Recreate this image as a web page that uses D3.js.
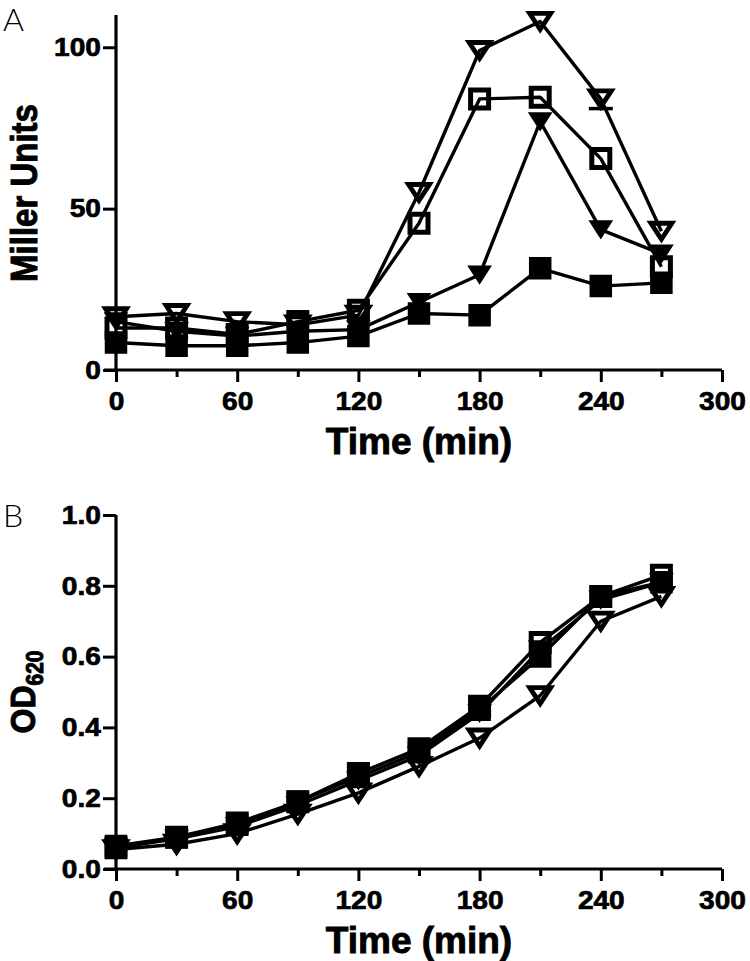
<!DOCTYPE html>
<html>
<head>
<meta charset="utf-8">
<script src="https://cdn.jsdelivr.net/npm/d3@7"></script>
<style>
  html, body { margin: 0; padding: 0; background: #fff; }
  svg { display: block; }
  .tick text { font-family: "Liberation Sans", Arial, sans-serif; font-weight: bold; font-size: 26px;
               stroke: #000; stroke-width: 0.7px; }
  .title { stroke: #000; stroke-width: 0.9px; }
</style>
</head>
<body>
<svg id="chart" width="750" height="961"></svg>
<script>
// ---------- data ----------
const times = [0, 30, 60, 90, 120, 150, 180, 210, 240, 270];

// Panel A : Miller Units
const millerOpenTri   = [16.5, 17.5, 15, 14, 17, 55, 99, 108, 84, 43];
const millerOpenSq    = [13, 13, 11, 15, 18.5, 45.5, 84, 84.5, 65.5, 32];
const millerFilledTri = [15, 12, 10.5, 12, 12.5, 21, 29.5, 77, 43.5, 36];
const millerFilledSq  = [8.5, 7.5, 7.5, 8.5, 10.5, 17.5, 17, 31.5, 26, 27];
const millerOpenTriErr = [0, 0, 0, 0, 0, 0, 0, 0, 3, 0];

// Panel B : OD620
const odOpenTri   = [0.055, 0.07, 0.10, 0.155, 0.215, 0.29, 0.37, 0.49, 0.70, 0.77];
const odOpenSq    = [0.06, 0.09, 0.13, 0.19, 0.27, 0.34, 0.46, 0.64, 0.77, 0.83];
const odFilledTri = [0.06, 0.085, 0.12, 0.18, 0.25, 0.32, 0.44, 0.62, 0.76, 0.81];
const odFilledSq  = [0.065, 0.09, 0.125, 0.19, 0.26, 0.33, 0.45, 0.60, 0.77, 0.81];

const xMajorTicks = [0, 60, 120, 180, 240, 300];
const xMinorTicks = [30, 90, 150, 210, 270];
const yTicksA = [0, 50, 100];
const yTicksB = [0.0, 0.2, 0.4, 0.6, 0.8, 1.0];

// ---------- drawing ----------
const svg = d3.select("#chart");
const FONT = '"Liberation Sans", Arial, Helvetica, sans-serif';

function markerPath(type) {
  const p = d3.path();
  if (type === "sq") {
    const s = 9;
    p.rect(-s, -s, 2 * s, 2 * s);
  } else if (type === "fsq") {
    const s = 10.5;
    p.rect(-s, -s, 2 * s, 2 * s);
  } else if (type === "tri") {
    const w = 10.5, h = 16;
    p.moveTo(-w, -h / 2); p.lineTo(w, -h / 2); p.lineTo(0, h / 2); p.closePath();
  } else {
    const w = 11, h = 17;
    p.moveTo(-w, -h / 2); p.lineTo(w, -h / 2); p.lineTo(0, h / 2); p.closePath();
  }
  return p.toString();
}

function panel(cfg) {
  const x = d3.scaleLinear().domain([0, 300]).range([116, 722]);
  const y = d3.scaleLinear().domain(cfg.yDomain).range([cfg.bottom, cfg.top]);
  const g = svg.append("g");

  // x axis (major)
  const xAx = g.append("g").attr("transform", `translate(0,${cfg.bottom})`)
    .call(d3.axisBottom(x).tickValues(xMajorTicks).tickSize(12).tickPadding(9).tickSizeOuter(0));
  xAx.select(".domain").attr("stroke-width", 3.2).attr("d", `M${x(0) - 12},0H${x(300)}`);
  xAx.selectAll(".tick line").attr("stroke-width", 3);
  xAx.selectAll(".tick text").attr("dy", "0.74em")
    .attr("transform", "scale(1.08,1)");
  // minor ticks
  g.append("g").attr("transform", `translate(0,${cfg.bottom})`)
    .call(d3.axisBottom(x).tickValues(xMinorTicks).tickSize(7).tickFormat(""))
    .call(s => s.select(".domain").remove())
    .selectAll(".tick line").attr("stroke-width", 3);

  // y axis
  const yAx = g.append("g").attr("transform", `translate(116,0)`)
    .call(d3.axisLeft(y).tickValues(cfg.yTicks).tickSize(13).tickPadding(1)
      .tickFormat(cfg.fmt).tickSizeOuter(0));
  yAx.select(".domain").attr("stroke-width", 3.2).attr("d", `M0,${y(cfg.yDomain[0]) + 1.6}V${cfg.top}`);
  yAx.selectAll(".tick line").attr("stroke-width", 3);
  yAx.selectAll(".tick text").attr("transform", "scale(1.08,1)");

  const line = d3.line().x((d, i) => x(times[i])).y(d => y(d));

  const series = cfg.series;
  series.forEach(s => {
    g.append("path").datum(s.values).attr("d", line)
      .attr("fill", "none").attr("stroke", "#000").attr("stroke-width", 3.4)
      .attr("stroke-linejoin", "round");
  });
  // error bars
  if (cfg.err) {
    cfg.err.forEach(e => {
      e.err.forEach((v, i) => {
        if (!v) return;
        const v0 = e.values[i];
        g.append("line").attr("x1", x(times[i])).attr("x2", x(times[i]))
          .attr("y1", y(v0)).attr("y2", y(v0 - v)).attr("stroke", "#000").attr("stroke-width", 3);
        g.append("line").attr("x1", x(times[i]) - 12).attr("x2", x(times[i]) + 12)
          .attr("y1", y(v0 - v)).attr("y2", y(v0 - v)).attr("stroke", "#000").attr("stroke-width", 3.5);
      });
    });
  }
  series.forEach(s => {
    g.append("g").selectAll("path").data(s.values).join("path")
      .attr("transform", (d, i) => `translate(${x(times[i])},${y(d)})`)
      .attr("d", markerPath(s.type))
      .attr("fill", s.type === "sq" || s.type === "tri" ? "none" : "#000")
      .attr("stroke", "#000")
      .attr("stroke-width", s.type === "sq" ? 5 : (s.type === "tri" ? 4.8 : 1.5))
      .attr("stroke-linejoin", "miter");
  });

  // x title
  g.append("text").attr("class", "title").attr("x", 419).attr("y", cfg.bottom + 84)
    .attr("text-anchor", "middle").attr("font-family", FONT).attr("font-weight", "bold")
    .attr("font-size", 37).text("Time (min)");

  // panel letter
  g.append("text").attr("x", 3).attr("y", cfg.letterY)
    .attr("font-family", "Lato, 'Open Sans', 'DejaVu Sans', sans-serif").attr("font-weight", 300)
    .attr("font-size", 32).text(cfg.letter);
  return g;
}

panel({
  top: 15, bottom: 370, yDomain: [0, 110], yTicks: yTicksA, fmt: d3.format("d"),
  letter: "A", letterY: 31,
  series: [
    { values: millerFilledSq, type: "fsq" },
    { values: millerFilledTri, type: "ftri" },
    { values: millerOpenSq, type: "sq" },
    { values: millerOpenTri, type: "tri" }
  ],
  err: [{ values: millerOpenTri, err: millerOpenTriErr }]
});

panel({
  top: 515, bottom: 869, yDomain: [0, 1], yTicks: yTicksB, fmt: d3.format(".1f"),
  letter: "B", letterY: 527,
  series: [
    { values: odOpenTri, type: "tri" },
    { values: odFilledTri, type: "ftri" },
    { values: odFilledSq, type: "fsq" },
    { values: odOpenSq, type: "sq" }
  ]
});

// y titles
svg.append("text").attr("class", "title").attr("transform", "translate(37,193) rotate(-90) scale(1,1.12)")
  .attr("text-anchor", "middle").attr("font-family", FONT).attr("font-weight", "bold")
  .attr("font-size", 33).text("Miller Units");

const od = svg.append("text").attr("class", "title").attr("transform", "translate(35,692) rotate(-90) scale(1,1.1)")
  .attr("text-anchor", "middle").attr("font-family", FONT).attr("font-weight", "bold")
  .attr("font-size", 32);
od.append("tspan").text("OD");
od.append("tspan").attr("font-size", 21).attr("dy", 7).text("620");
</script>
</body>
</html>
